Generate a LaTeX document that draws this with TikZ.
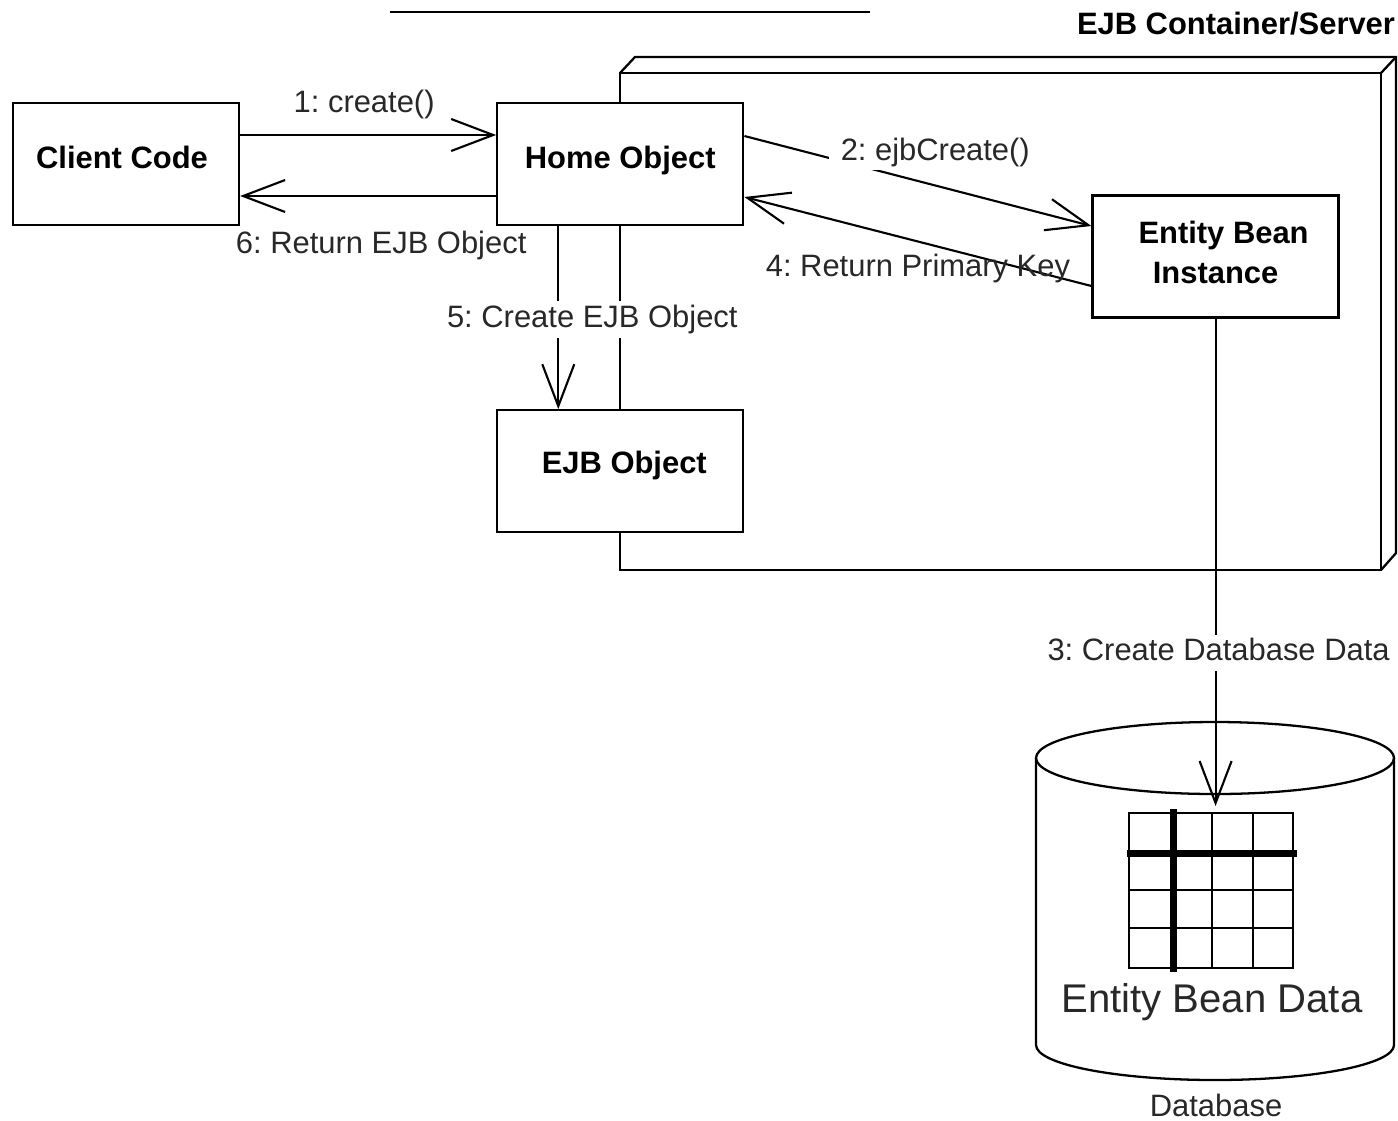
\documentclass[tikz,border=0pt]{standalone}
\usepackage{fontspec}
\setmainfont{Liberation Sans}
\usepackage{xcolor}
\usetikzlibrary{arrows.meta,positioning}
\definecolor{lblgray}{RGB}{40,40,40}
\begin{document}
\frenchspacing
\begin{tikzpicture}[
        every node/.style={font=\fontsize{8.8}{11}\selectfont},
        box/.style={rectangle, draw, line width=0.65pt, fill=white, inner sep=0pt, minimum width=2.46cm, minimum height=1.22cm, font=\fontsize{8.8}{11.4}\selectfont\bfseries},
        msg/.style={-{Straight Barb[length=4.2mm, width=3.2mm]}, line width=0.6pt},
        lbl/.style={text=lblgray},
        gaplbl/.style={text=lblgray, fill=white, inner ysep=1pt, text height=6.4pt, text depth=1.9pt},
        wall/.style={line width=0.65pt},
        gridline/.style={line width=0.6pt}
    ]
        \useasboundingbox (0,0) rectangle (13.98,-11.20);

        % Top rule
        \draw[line width=0.7pt] (3.90,-0.12) -- (8.70,-0.12);

        % Container
        \draw[wall] (6.20,-0.73) rectangle (13.81,-5.70);
        \draw[wall] (6.20,-0.73) -- (6.35,-0.57) -- (13.96,-0.57) -- (13.96,-5.53) -- (13.81,-5.70);
        \draw[wall] (13.81,-0.73) -- (13.96,-0.57);
        \node[font=\fontsize{8.8}{11}\selectfont\bfseries] (containerlabel) at (12.36,-0.24) {EJB Container/Server};

        % Boxes
        \node[box, minimum width=2.26cm, text depth=.14cm] (client) at (1.26,-1.64) {Client Code\hspace{.08cm}\null};
        \node[box, text depth=.14cm, right=2.56cm of client] (home) {Home Object};
        \node[box, text depth=.18cm, below=1.83cm of home] (ejbobj) {\hspace{.08cm}EJB Object};
        \node[box, align=center, text depth=.08cm, right=3.47cm of home, yshift=-.925cm] (entity) {\hspace*{.16cm}Entity Bean\\Instance};

        % Database
        \draw[wall] (12.15,-7.58) ellipse (1.79 and .36);
        \draw[wall] (10.36,-7.58) -- (10.36,-10.45) arc[start angle=180, end angle=360, x radius=1.79, y radius=.35] -- (13.94,-7.58);
        \coordinate (dbtable) at (entity.south |- 0,-8.06);
        \draw[gridline] (11.29,-8.13) rectangle (12.93,-9.68);
        \foreach \x in {12.12,12.53}
            \draw[gridline] (\x,-8.13) -- (\x,-9.68);
        \foreach \y in {-8.90,-9.28}
            \draw[gridline] (11.29,\y) -- (12.93,\y);
        \draw[line width=2pt] (11.73,-8.09) -- (11.73,-9.72);
        \draw[line width=2pt] (11.27,-8.53) -- (12.97,-8.53);
        \node[font=\fontsize{11.4}{14}\selectfont, text=lblgray] (tablelabel) at (12.12,-10.02) {Entity Bean Data};
        \node[lbl] (dblabel) at (12.16,-11.05) {Database};

        % Messages
        \draw[msg] ([yshift=.29cm]client.east) -- node[lbl, above=.03cm, xshift=-.04cm] {1: create()} ([yshift=.29cm]home.west);
        \draw[msg] ([yshift=-.32cm]home.west) -- node[lbl, below=.22cm, xshift=.13cm] {6: Return EJB Object} ([yshift=-.32cm]client.east);
        \draw[msg] ([yshift=.28cm]home.east) -- node[gaplbl, pos=.55, above=.14cm] {2: ejbCreate()} ([yshift=.305cm]entity.west);
        \draw[msg] ([yshift=-.295cm]entity.west) -- node[lbl, below=0cm] {4: Return Primary Key} ([yshift=-.33cm]home.east);
        \draw[msg] ([xshift=-.62cm]home.south) -- node[gaplbl, pos=.51, xshift=.34cm] {5: Create EJB Object} ([xshift=-.62cm]ejbobj.north);
        \draw[msg] (entity.south) -- node[gaplbl, pos=.686, xshift=.03cm] {3: Create Database Data} (dbtable);
    \end{tikzpicture}
\end{document}
